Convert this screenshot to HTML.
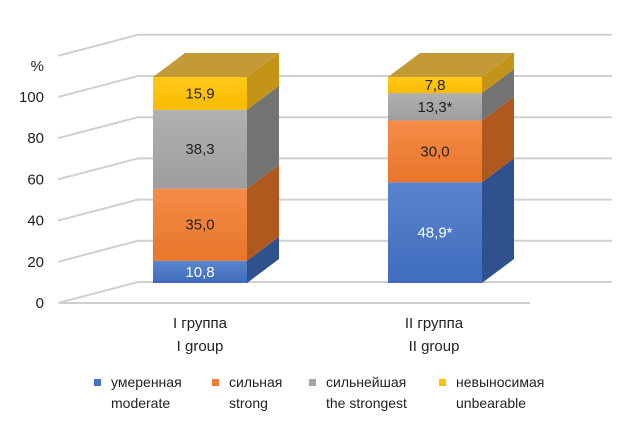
<!DOCTYPE html>
<html><head><meta charset="utf-8"><style>
html,body{margin:0;padding:0;background:#fff;}
svg{display:block;font-family:"Liberation Sans",sans-serif;}
</style></head><body>
<svg id="chart" width="630" height="428" viewBox="0 0 630 428">
<defs>
<linearGradient id="g0" x1="0" y1="0" x2="0" y2="1"><stop offset="0" stop-color="#5a84cc"/><stop offset="1" stop-color="#3f6cbd"/></linearGradient>
<linearGradient id="g1" x1="0" y1="0" x2="0" y2="1"><stop offset="0" stop-color="#f48c48"/><stop offset="1" stop-color="#e9762a"/></linearGradient>
<linearGradient id="g2" x1="0" y1="0" x2="0" y2="1"><stop offset="0" stop-color="#b0b0b0"/><stop offset="1" stop-color="#9e9e9e"/></linearGradient>
<linearGradient id="g3" x1="0" y1="0" x2="0" y2="1"><stop offset="0" stop-color="#ffc81a"/><stop offset="1" stop-color="#f9bb00"/></linearGradient>
</defs>
<g id="grid"></g>
<g id="yaxis"></g>
<g id="bars"></g>
<g id="xaxis"></g>
<g id="legend"></g>
</svg>
<script>
const groupsRu = ["I  группа", "II  группа"];
const groupsEn = ["I  group", "II  group"];
const moderate = [10.8, 48.9];
const strong = [35.0, 30.0];
const strongest = [38.3, 13.3];
const unbearable = [15.9, 7.8];
const valueLabels = [["10,8","35,0","38,3","15,9"],["48,9*","30,0","13,3*","7,8"]];
const yTicks = [0, 20, 40, 60, 80, 100, 120];
const seriesRu = ["умеренная","сильная","сильнейшая","невыносимая"];
const seriesEn = ["moderate","strong","the strongest","unbearable"];

const NS="http://www.w3.org/2000/svg";
function el(tag, attrs, parent){const e=document.createElementNS(NS,tag);for(const k in attrs)e.setAttribute(k,attrs[k]);parent.appendChild(e);return e;}
const backY = v => 282 - v*2.06;
const barY = v => 283 - v*2.06;
const barX = [153, 388], barW = 94, dX = 32, dY = -24;
const front = ["url(#g0)","url(#g1)","url(#g2)","url(#g3)"];
const legCol = ["#4472c4","#ed7d31","#a5a5a5","#ffc000"];
const side = ["#2f528f","#b0591f","#737373","#c49418"];
const textCol = ["#fff","#222","#222","#222"];

const grid=document.getElementById('grid');
yTicks.forEach(t=>{
  const y=backY(t);
  const l=el('polyline',{points:`58,${y+21} 138,${y} 612,${y}`,fill:'none',stroke:'#d0d0d0','stroke-width':2},grid);
  
  
});
const fl=el('line',{x1:60,y1:303,x2:530,y2:303,stroke:'#d0d0d0','stroke-width':2},grid);



const ya=document.getElementById('yaxis');
yTicks.filter(t=>t<=100).forEach(t=>{
  const tx=el('text',{x:44,y:backY(t)+21+5,'text-anchor':'end','font-size':15,fill:'#222'},ya);
  tx.textContent=t;
  
  
});
const pc=el('text',{x:44,y:71,'text-anchor':'end','font-size':15,fill:'#222'},ya);
pc.textContent='%';



const bars=document.getElementById('bars');
[0,1].forEach(g=>{
  const vals=[moderate[g],strong[g],strongest[g],unbearable[g]];
  const x=barX[g];let cum=0;
  vals.forEach((v,s)=>{
    const y0=barY(cum),y1=barY(cum+v);
    const sp=el('polygon',{points:`${x+barW},${y0} ${x+barW+dX},${y0+dY} ${x+barW+dX},${y1+dY} ${x+barW},${y1}`,fill:side[s]},bars);
    
    
    const r=el('rect',{x:x,y:y1,width:barW,height:y0-y1,fill:front[s]},bars);
    
    
    const t=el('text',{x:x+barW/2,y:(y0+y1)/2+5,'text-anchor':'middle','font-size':15,fill:textCol[s]},bars);
    t.textContent=valueLabels[g][s];
    
    
    cum+=v;
  });
  const yt=barY(cum);
  const top=el('polygon',{points:`${x},${yt} ${x+dX},${yt+dY} ${x+barW+dX},${yt+dY} ${x+barW},${yt}`,fill:'#c39a35'},bars);
  
  
});

const xa=document.getElementById('xaxis');
[0,1].forEach(g=>{
  const cx=[200,434][g];
  const a=el('text',{x:cx,y:328,'text-anchor':'middle','font-size':15,fill:'#222','xml:space':'preserve'},xa);
  a.textContent=groupsRu[g];
  
  
  const b=el('text',{x:cx,y:351,'text-anchor':'middle','font-size':15,fill:'#222','xml:space':'preserve'},xa);
  b.textContent=groupsEn[g];
  
  
});

const lg=document.getElementById('legend');
const mx=[94,212,309,439];
seriesRu.forEach((s,i)=>{
  const m=el('rect',{x:mx[i],y:379,width:7,height:7,fill:legCol[i]},lg);
  
  
  const t1=el('text',{x:mx[i]+17,y:387,'font-size':14,fill:'#222'},lg);
  t1.textContent=s;
  
  
  const t2=el('text',{x:mx[i]+17,y:408,'font-size':14,fill:'#222'},lg);
  t2.textContent=seriesEn[i];
  
  
});
</script>
</body></html>
